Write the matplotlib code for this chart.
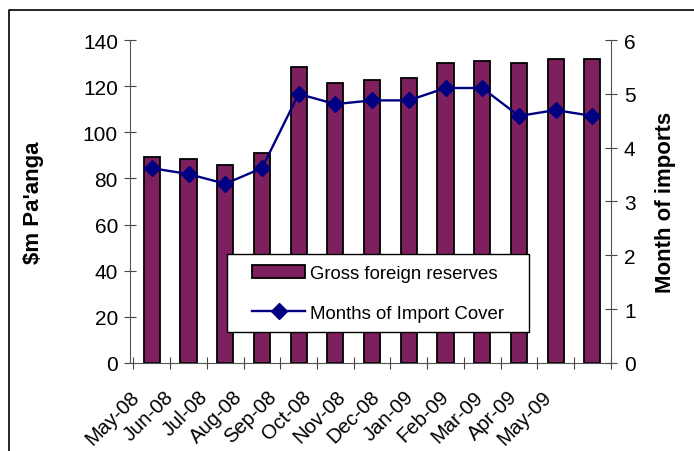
import matplotlib.pyplot as plt
import numpy as np

months = ['May-08', 'Jun-08', 'Jul-08', 'Aug-08', 'Sep-08', 'Oct-08', 'Nov-08',
          'Dec-08', 'Jan-09', 'Feb-09', 'Mar-09', 'Apr-09', 'May-09']
reserves = [89.5, 88.5, 86, 91, 128.5, 121.5, 122.5, 123.5, 130, 131, 130, 132, 132]
import_cover = [3.62, 3.51, 3.33, 3.62, 5.0, 4.81, 4.88, 4.88, 5.11, 5.11, 4.59, 4.70, 4.59]

plt.rcParams['font.family'] = ['Liberation Sans', 'DejaVu Sans']

W, H = 694, 452
fig = plt.figure(figsize=(6.94, 4.52), dpi=100)
ax = fig.add_axes([0.187, 0.195, 0.693, 0.714])
ax2 = ax.twinx()

x = np.arange(len(months))
bars = ax.bar(x, reserves, width=0.44, color='#7E1F5E', edgecolor='black',
              linewidth=1.3, label='Gross foreign reserves', zorder=2)
line, = ax2.plot(x, import_cover, color='#000080', marker='D', markersize=8.5,
                 linewidth=1.7, label='Months of Import Cover', zorder=3)

ax.set_xlim(-0.5, len(months) - 0.5)
ax.set_ylim(0, 140)
ax.set_yticks(range(0, 141, 20))
ax2.set_ylim(0, 6)
ax2.set_yticks(range(0, 7))

# category boundary ticks, labels placed separately
ax.set_xticks(np.arange(-0.5, len(months), 1.0))
ax.set_xticklabels([])
ax.set_xticks(np.linspace(-0.6, 10.62, len(months)), minor=True)
ax.set_xticklabels(months, minor=True, rotation=45, ha='right',
                   rotation_mode='anchor', fontsize=14.6)
ax.tick_params(axis='x', which='major', direction='inout', length=9, color='#444444')
ax.tick_params(axis='x', which='minor', length=0, pad=17)

ax.tick_params(axis='y', direction='inout', length=9, labelsize=15, pad=4, color='#444444')
ax2.tick_params(axis='y', direction='inout', length=9, labelsize=15, pad=5, color='#444444')

for a in (ax, ax2):
    a.spines['top'].set_visible(False)
    for s in ('left', 'right', 'bottom'):
        a.spines[s].set_color('#555555')
ax.spines['right'].set_visible(False)
ax2.spines['left'].set_visible(False)
ax2.spines['bottom'].set_visible(False)

ax.set_ylabel("\\$m Pa'anga", fontsize=16, fontweight='bold', labelpad=28)
ax2.set_ylabel('Month of imports', fontsize=16, fontweight='bold', labelpad=14)

# legend box drawn separately so it can have wider side padding
fig.add_artist(plt.Rectangle((227 / W, 1 - 333 / H), 302 / W, 78 / H,
                             transform=fig.transFigure, facecolor='white',
                             edgecolor='black', linewidth=1.0, zorder=4))
leg = fig.legend([bars, line], ['Gross foreign reserves', 'Months of Import Cover'],
                 loc='upper left', bbox_to_anchor=(252 / W, 1 - 266 / H),
                 borderaxespad=0, borderpad=0, fontsize=13.4, frameon=False,
                 handlelength=2.85, handletextpad=0.25, labelspacing=1.22)
leg.set_zorder(5)

# outer frame (left and top edges visible)
fig.add_artist(plt.Line2D([9 / W, 9 / W, 1.0], [0, 1 - 11 / H, 1 - 11 / H],
                          color='black', linewidth=1.2, transform=fig.transFigure))

fig.savefig('out.png', dpi=100)
